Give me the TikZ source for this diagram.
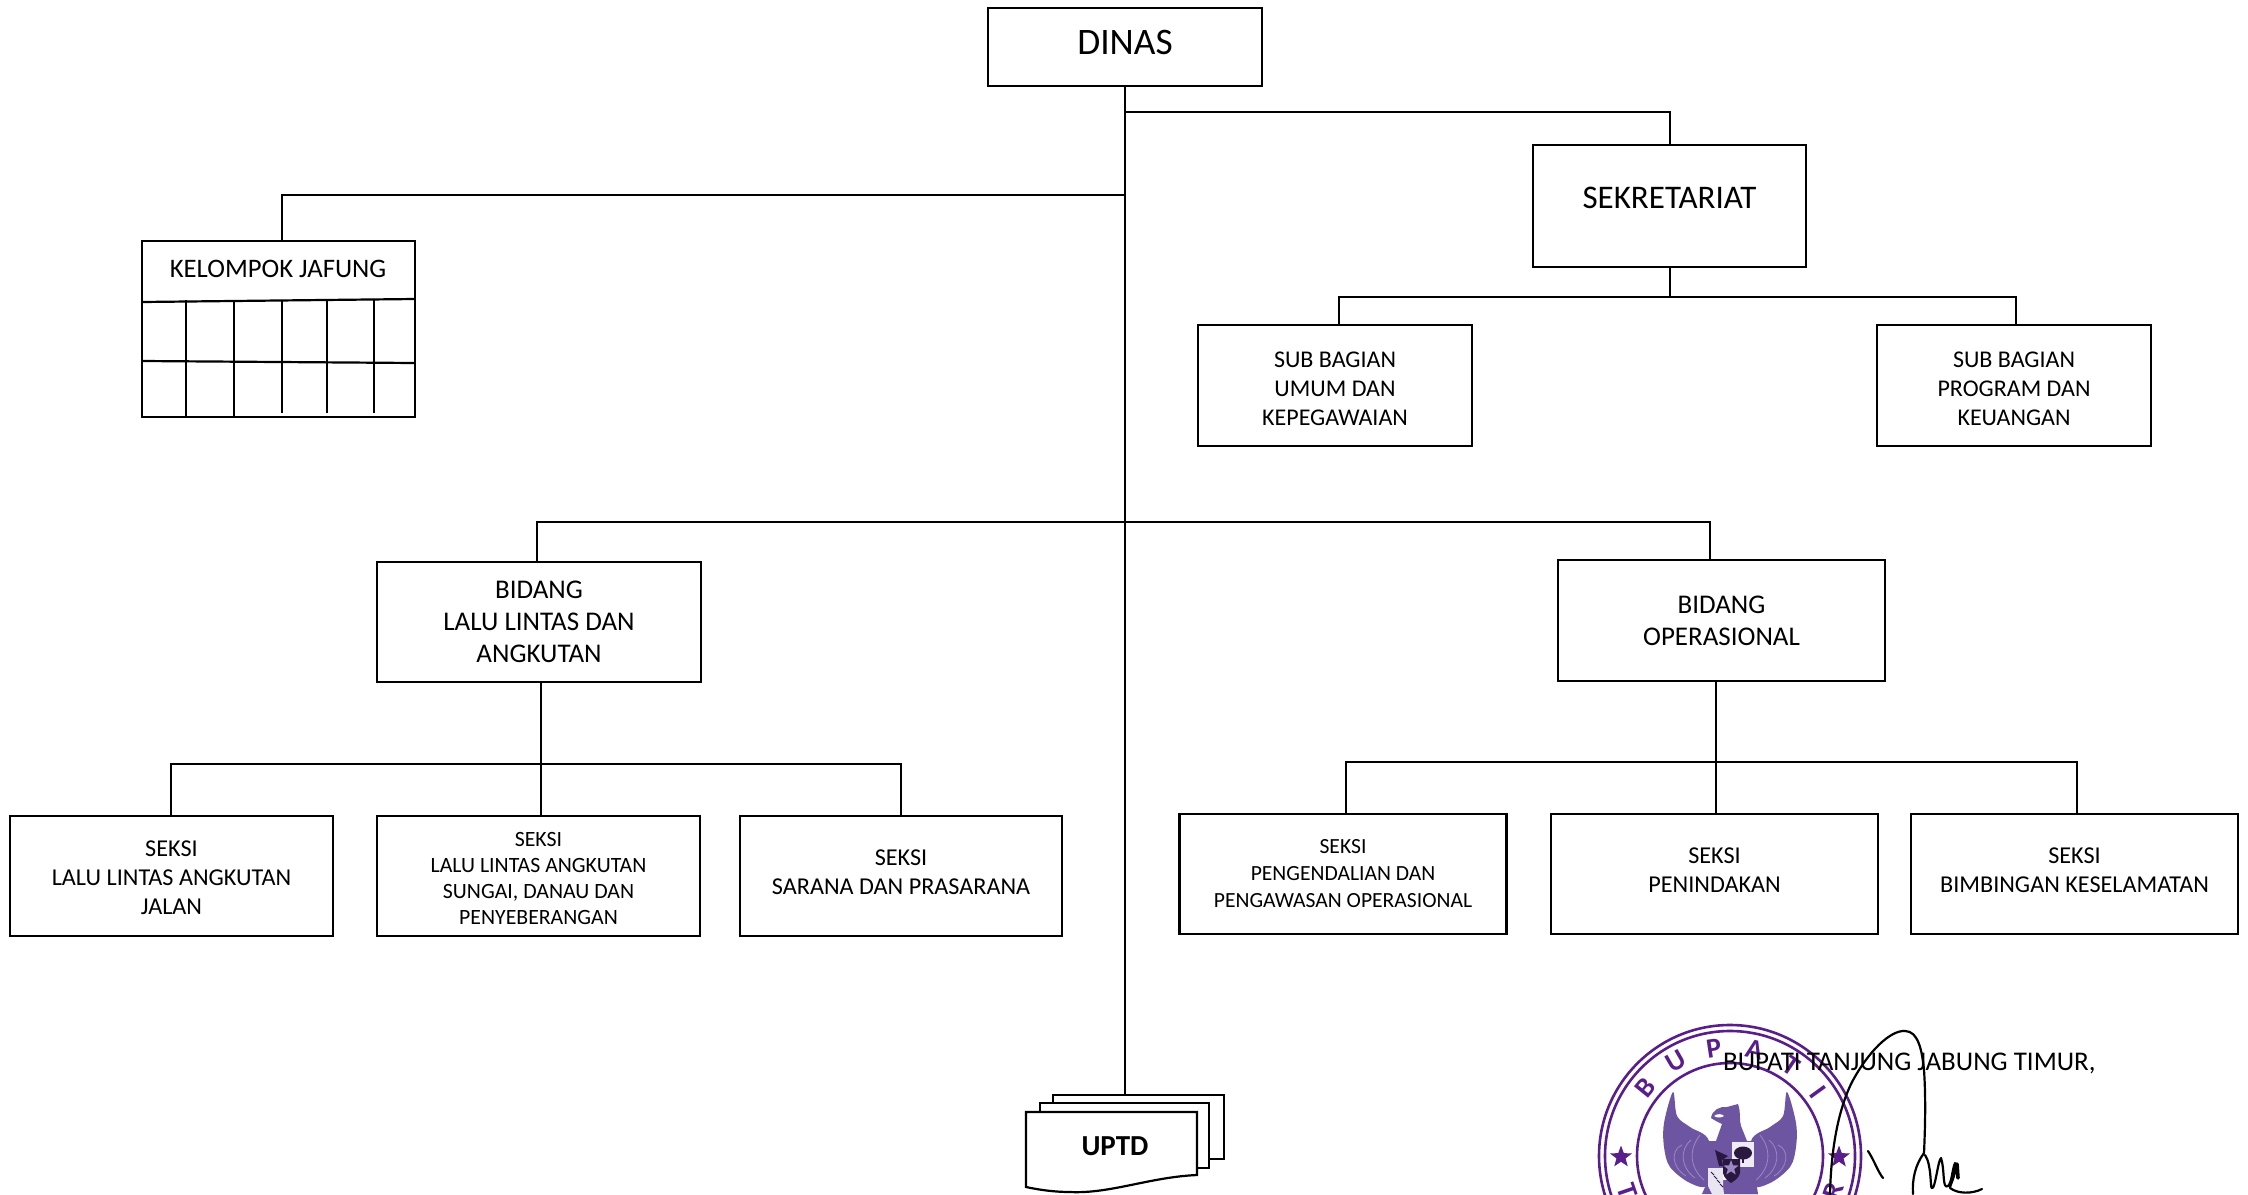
\documentclass[tikz,border=0pt]{standalone}
\usepackage{fontspec}
\setmainfont{Carlito}
\usetikzlibrary{shapes.geometric}
\definecolor{seal}{HTML}{5A1E8C}
\definecolor{wing}{HTML}{6E55A2}
\definecolor{wingl}{HTML}{9A88C2}
\definecolor{dk}{HTML}{2A1840}
\newcommand\rdn[1]{\rule{0pt}{#1pt}}
\newcommand\rup[1]{\rule[-#1pt]{0pt}{#1pt}}
\tikzset{
  x=1pt,y=-1pt,
  box/.style={draw=black,line width=2.2pt,fill=white,align=center,inner sep=0pt,text=black},
  conn/.style={draw=black,line width=2.2pt},
  fsA/.style={font=\fontsize{37.4}{44}\selectfont},
  fsB/.style={font=\fontsize{33}{40}\selectfont},
  fsC/.style={font=\fontsize{27}{32}\selectfont},
  fsK/.style={font=\fontsize{26.7}{32}\selectfont},
  fsD/.style={font=\fontsize{24}{29}\selectfont},
  fsE/.style={font=\fontsize{24.2}{29}\selectfont},
  fsF/.style={font=\fontsize{21.8}{26}\selectfont},
  fsG/.style={font=\fontsize{21.6}{27}\selectfont},
  ringl/.style={draw=seal,line width=2.6pt},
  sealtxt/.style={text=seal,font=\fontsize{28}{28}\selectfont\bfseries,inner sep=0pt},
  sealstar/.style={star,star points=5,star point ratio=2.4,fill=seal,draw=none,minimum size=23pt,inner sep=0pt},
  sig/.style={draw=black,line width=2.2pt,line cap=round,line join=round},
}
\begin{document}
\begin{tikzpicture}
\path[use as bounding box] (0,0) rectangle (2248,1194);
\clip (0,0) rectangle (2248,1194);
% seal
\draw[ringl] (1730,1156) circle[radius=131];
\draw[ringl] (1730,1156) circle[radius=125];
\draw[ringl] (1730,1156) circle[radius=93];
\foreach \ang/\ltr/\nm in {141/B/sa,120/U/sb,98.5/P/sc,77/A/sd,56/T/se,36/I/sf}{
  \pgfmathsetmacro\rr{\ang-90}
  \node[sealtxt,rotate=\rr] (\nm) at ({1730+109*cos(\ang)},{1156-109*sin(\ang)}) {\ltr};
}
\node[sealtxt,rotate=-71] (sg) at ({1730+109*cos(199)},{1156-109*sin(199)}) {T};
\node[sealtxt,rotate=71] (sh) at ({1730+109*cos(-19)},{1156-109*sin(-19)}) {R};
\node[sealstar] (stl) at (1621,1157) {};
\node[sealstar] (str) at (1839,1157) {};
% eagle
\fill[wing] plot[smooth cycle,tension=.55] coordinates {(1673,1092)(1664,1123)(1664,1147)(1670,1167)(1690,1183)(1708,1184)(1709,1141)(1690,1127)(1677,1116)};
\fill[wing] plot[smooth cycle,tension=.55] coordinates {(1787,1092)(1796,1123)(1796,1147)(1790,1167)(1770,1183)(1752,1184)(1751,1141)(1770,1127)(1783,1116)};
\foreach \q in {0,1,2}{
  \draw[wingl,line width=.8pt] ({1700-9*\q},1135+5*\q) .. controls ({1688-9*\q},1150) and ({1690-9*\q},1168) .. ({1704-9*\q},1180-2*\q);
  \draw[wingl,line width=.8pt] ({1760+9*\q},1135+5*\q) .. controls ({1772+9*\q},1150) and ({1770+9*\q},1168) .. ({1756+9*\q},1180-2*\q);
}
\fill[wing] (1711,1118) .. controls (1712,1110) and (1720,1106) .. (1727,1107) -- (1738,1104) .. controls (1741,1112) and (1739,1120) .. (1741,1126) -- (1747,1141) -- (1716,1141) -- (1722,1124) -- (1716,1121) -- cycle;
\fill[white] (1714,1116) .. controls (1718,1113) and (1722,1114) .. (1724,1116) .. controls (1721,1118) and (1717,1118) .. (1714,1116) -- cycle;
\fill[wing] (1702,1194) -- (1708,1180) -- (1752,1180) -- (1758,1194) -- cycle;
\fill[wing] (1738,1167) -- (1754,1167) -- (1758,1194) -- (1730,1194) -- cycle;
\fill[wing] (1708,1141) rectangle (1731,1168);
\fill[white!88!wing] (1731,1141) rectangle (1754,1167);
\draw[wing,line width=1pt] (1731,1141) rectangle (1754,1167);
\fill[dk] (1743,1153) ellipse[x radius=9,y radius=6.5];
\fill[dk] (1742,1153) rectangle (1744,1163);
\fill[dk] (1715,1150) -- (1728,1156) -- (1722,1160) -- (1723,1166) -- (1719,1166) -- (1717,1158) -- cycle;
\fill[white!85!wing] (1708,1168) -- (1723,1168) -- (1723,1186) -- (1724,1194) -- (1712,1194) -- (1708,1186) -- cycle;
\foreach \q in {0,1,2,3}{\draw[dk,line width=1pt] ({1711+3*\q},{1172+4*\q}) -- ({1714+3*\q},{1175+4*\q});}
\fill[dk] (1723,1159) -- (1740,1159) -- (1740,1173) .. controls (1739,1178) and (1734,1181) .. (1731,1183) .. controls (1728,1181) and (1724,1178) .. (1723,1173) -- cycle;
\node[star,star points=5,star point ratio=2.4,fill=wingl,draw=none,minimum size=16pt,inner sep=0pt] (shst) at (1731,1168) {};
% boxes
\node[box,fsA,minimum width=274pt,minimum height=78pt] (dinas) at (1125,47) {DINAS\rup{10}};
\node[box,fsB,minimum width=273pt,minimum height=122pt] (sek) at (1669.5,206) {SEKRETARIAT\rup{16}};
\node[box,minimum width=273pt,minimum height=176pt] (kel) at (278.5,329) {};
\node[fsK,inner sep=0pt] (kelt) at (278,269) {KELOMPOK JAFUNG};
\node[box,fsD,minimum width=274pt,minimum height=121pt] (subu) at (1335,385.5) {\rdn{22}SUB BAGIAN\\UMUM DAN\\KEPEGAWAIAN};
\node[box,fsD,minimum width=274pt,minimum height=121pt] (subp) at (2014,385.5) {\rdn{22}SUB BAGIAN\\PROGRAM DAN\\KEUANGAN};
\node[box,fsC,minimum width=324pt,minimum height=120pt] (bidl) at (539,622) {BIDANG\\LALU LINTAS DAN\\ANGKUTAN};
\node[box,fsC,minimum width=327pt,minimum height=121pt] (bido) at (1721.5,620.5) {BIDANG\\OPERASIONAL};
\node[box,fsE,minimum width=323pt,minimum height=120pt] (s1) at (171.5,876) {\rdn{19.6}SEKSI\\LALU LINTAS ANGKUTAN\\JALAN};
\node[box,fsF,minimum width=323pt,minimum height=120pt] (s2) at (538.5,876) {\rdn{20}SEKSI\\LALU LINTAS ANGKUTAN\\SUNGAI, DANAU DAN\\PENYEBERANGAN};
\node[box,fsE,minimum width=322pt,minimum height=120pt] (s3) at (901,876) {SEKSI\\SARANA DAN PRASARANA\rup{8}};
\node[box,fsG,minimum width=327pt,minimum height=120pt] (s4) at (1343,874) {SEKSI\\PENGENDALIAN DAN\\PENGAWASAN OPERASIONAL};
\node[box,fsE,minimum width=327pt,minimum height=120pt] (s5) at (1714.5,874) {SEKSI\\PENINDAKAN\rup{8}};
\node[box,fsE,minimum width=327pt,minimum height=120pt] (s6) at (2074.5,874) {SEKSI\\BIMBINGAN KESELAMATAN\rup{8}};
% kelompok grid
\draw[conn] (142,302) -- (415,299);
\draw[conn] (142,361) -- (415,363);
\foreach \vx/\vy in {186/417,234/417,282/413,327/413,374/413}{\draw[conn] (\vx,300) -- (\vx,\vy);}
% UPTD
\draw[box] (1053,1095) rectangle (1224,1159);
\draw[box] (1040,1103) rectangle (1209,1168);
\draw[box] (1026,1112) -- (1197,1112) -- (1197,1175) .. controls (1150,1177) and (1110,1194) .. (1070,1192) .. controls (1055,1192) and (1040,1190) .. (1026,1187) -- cycle;
\node[inner sep=0pt,font=\fontsize{29}{34}\selectfont\bfseries] (uptd) at (1115,1146) {UPTD};
% junctions
\coordinate (uptdtop) at (1125,1095);
\coordinate (ja) at (1125,112);
\coordinate (jb) at (1125,195);
\coordinate (jc) at (1125,522);
\coordinate (kelt2) at (282,241);
\coordinate (jd) at (1670,297);
\coordinate (seka) at (1670,145);
\coordinate (sekb) at (1670,267);
\coordinate (subua) at (1339,325);
\coordinate (subpa) at (2016,325);
\coordinate (bidla) at (537,562);
\coordinate (bidoa) at (1710,560);
\coordinate (bidlb) at (541,682);
\coordinate (bidob) at (1716,680);
\coordinate (je) at (541,764);
\coordinate (jf) at (1716,762);
\coordinate (s2a) at (541,816);
\coordinate (s1a) at (171,816);
\coordinate (s5a) at (1716,814);
\coordinate (s6a) at (2077,814);
\coordinate (s4a) at (1346,814);
% connectors
\draw[conn] (dinas.south) -- (uptdtop);
\draw[conn] (ja) -| (seka);
\draw[conn] (jb) -| (kelt2);
\draw[conn] (sekb) -- (jd);
\draw[conn] (subua) |- (jd) -| (subpa);
\draw[conn] (bidla) |- (jc) -| (bidoa);
\draw[conn] (bidlb) -- (s2a);
\draw[conn] (s1a) |- (je) -| (s3.north);
\draw[conn] (bidob) -- (s5a);
\draw[conn] (s4a) |- (jf) -| (s6a);
% title text and signature
\node[inner sep=0pt,anchor=west,font=\fontsize{27}{32}\selectfont] (bupati) at (1723,1063) {BUPATI TANJUNG JABUNG TIMUR,};
\draw[sig] (1830,1194) .. controls (1831,1150) and (1838,1110) .. (1852,1082) .. controls (1868,1052) and (1890,1030) .. (1905,1031) .. controls (1918,1031) and (1922,1050) .. (1924,1070) .. controls (1926,1100) and (1925,1130) .. (1924,1153);
\draw[sig] (1924,1153) .. controls (1915,1165) and (1912,1180) .. (1913,1194);
\draw[sig] (1925,1155) .. controls (1932,1165) and (1930,1190) .. (1932,1188) .. controls (1935,1190) and (1938,1160) .. (1941,1158) .. controls (1945,1170) and (1942,1190) .. (1948,1186) .. controls (1952,1182) and (1952,1170) .. (1955,1163) .. controls (1958,1170) and (1950,1185) .. (1950,1188) .. controls (1958,1194) and (1972,1194) .. (1982,1189);
\draw[sig,line width=3.6pt] (1957,1164) -- (1958,1178);
\draw[sig] (1868,1151) .. controls (1874,1160) and (1878,1172) .. (1883,1178);
\end{tikzpicture}
\end{document}
